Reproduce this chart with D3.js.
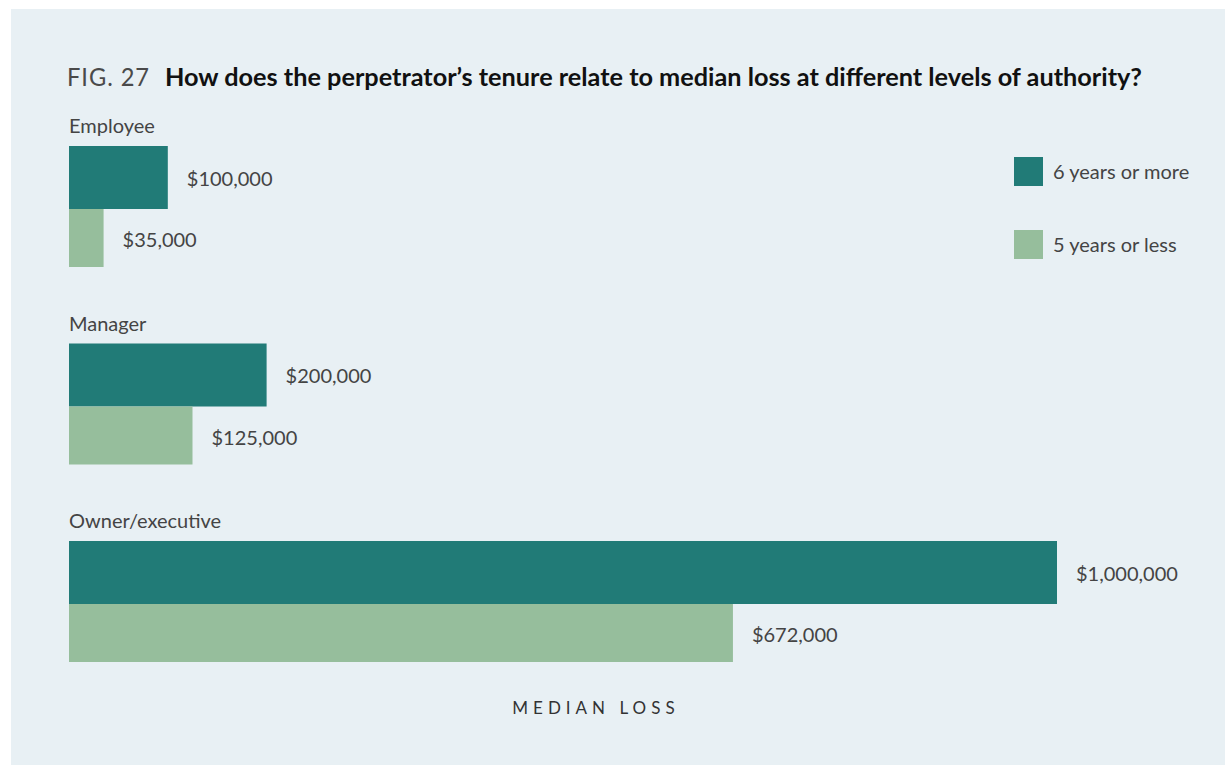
<!DOCTYPE html>
<html><head><meta charset="utf-8">
<script src="https://cdn.jsdelivr.net/npm/d3@7"></script>
<style>
html,body{margin:0;padding:0;background:#fff;}
svg{display:block;}
text{font-family:Lato,"Open Sans",sans-serif;}
</style></head>
<body>
<svg id="chart" width="1225" height="765"></svg>
<script>
const categories = ["Employee", "Manager", "Owner/executive"];
const seriesNames = ["6 years or more", "5 years or less"];
const longTenure = [100000, 200000, 1000000];
const shortTenure = [35000, 125000, 672000];
const colors = ["#217b77", "#96be9c"];

const svg = d3.select("#chart");
svg.append("rect").attr("x", 11).attr("y", 9).attr("width", 1214).attr("height", 756).attr("fill", "#e8f0f4");

// title
const title = svg.append("text").attr("x", 67).attr("y", 86).attr("font-size", 25);
title.append("tspan").attr("fill", "#4a4a4a").attr("font-weight", 400).attr("letter-spacing", 1).text("FIG. 27");
title.attr("textLength", 83).attr("lengthAdjust", "spacingAndGlyphs");
svg.append("text").attr("x", 165).attr("y", 86).attr("font-size", 25)
  .attr("font-family", "Roboto").attr("font-weight", 700).attr("fill", "#111")
  .text("How does the perpetrator\u2019s tenure relate to median loss at different levels of authority?")
  .attr("textLength", 977).attr("lengthAdjust", "spacingAndGlyphs");

const x = d3.scaleLinear().domain([0, 1000000]).range([69, 1057]);
const y = d3.scaleBand().domain(categories).range([146, 146 + 3 * 197.5]).padding(0);
const h1 = 63, h2 = 58;

const fmt = v => "$" + d3.format(",")(v);

const g = svg.append("g");
categories.forEach((c, i) => {
  const y0 = y(c);
  g.append("text").attr("x", 69).attr("y", y0 - 13).attr("font-size", 20).attr("fill", "#444").text(c);
  g.append("rect").attr("x", x(0)).attr("y", y0).attr("width", x(longTenure[i]) - x(0)).attr("height", h1).attr("fill", colors[0]);
  g.append("rect").attr("x", x(0)).attr("y", y0 + h1).attr("width", x(shortTenure[i]) - x(0)).attr("height", h2).attr("fill", colors[1]);
  g.append("text").attr("x", x(longTenure[i]) + 19).attr("y", y0 + h1 / 2 + 1).attr("dy", "0.35em")
    .attr("font-size", 20).attr("fill", "#444").text(fmt(longTenure[i]));
  g.append("text").attr("x", x(shortTenure[i]) + 19).attr("y", y0 + h1 + h2 / 2 + 2).attr("dy", "0.35em")
    .attr("font-size", 20).attr("fill", "#444").text(fmt(shortTenure[i]));
});

// legend
const leg = svg.append("g");
seriesNames.forEach((s, i) => {
  const ly = 157 + i * 73;
  leg.append("rect").attr("x", 1014).attr("y", ly).attr("width", 29).attr("height", 29).attr("fill", colors[i]);
  leg.append("text").attr("x", 1053).attr("y", ly + 15).attr("dy", "0.35em").attr("font-size", 20).attr("fill", "#444").text(s);
});

// axis title
svg.append("text").attr("x", 596).attr("y", 714).attr("text-anchor", "middle")
  .attr("font-size", 17).attr("letter-spacing", 5).attr("fill", "#333").text("MEDIAN LOSS");
</script>
</body></html>
